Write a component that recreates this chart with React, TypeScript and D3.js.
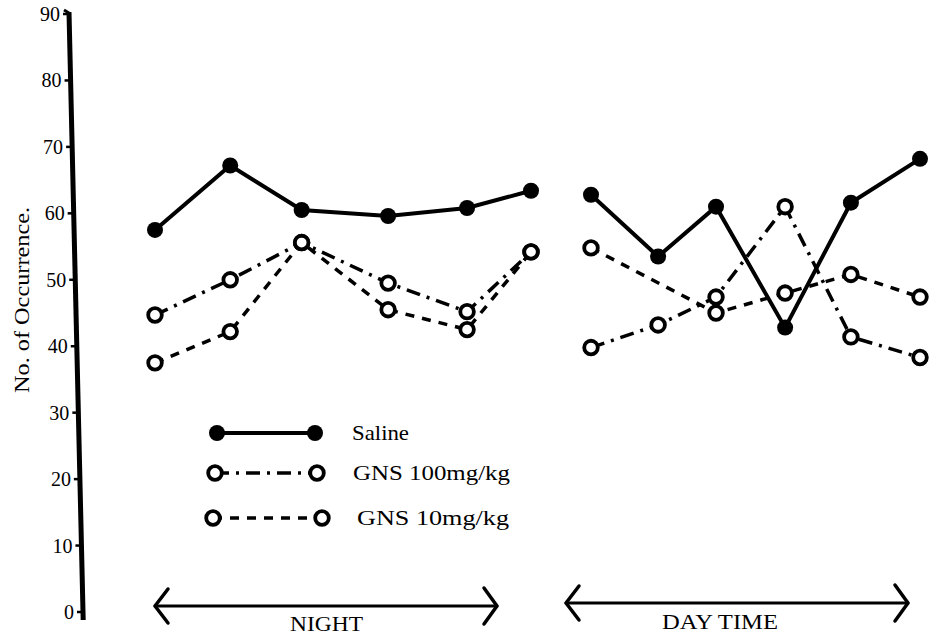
import React from "react";
import * as d3 from "d3";

// ---- data ----
const yTicks = [0, 10, 20, 30, 40, 50, 60, 70, 80, 90];
const nightT = [0, 1, 1.95, 3.1, 4.15, 5];
const dayT = [0, 1.02, 1.9, 2.95, 3.95, 5];
const salineNight = [57.5, 67.2, 60.5, 59.6, 60.8, 63.4];
const gns100Night = [44.7, 50.0, 55.6, 49.5, 45.2, 54.2];
const gns10Night = [37.5, 42.2, 55.6, 45.5, 42.5, 54.2];
const salineDay = [62.8, 53.5, 61.0, 42.8, 61.6, 68.2];
const gns100Day = [39.8, 43.2, 47.4, 61.0, 41.4, 38.3];
const gns10Day: (number | null)[] = [54.8, null, 45.0, 48.0, 50.8, 47.4];
const seriesNames = ["Saline", "GNS 100mg/kg", "GNS 10mg/kg"];
const periodLabels = ["NIGHT", "DAY TIME"];
const yTitle = "No. of Occurrence.";

const FONT = "'Liberation Serif', 'DejaVu Serif', serif";

type Style = { kind: "filled" | "open"; dash: string | null; width: number };
const styles: Style[] = [
  { kind: "filled", dash: null, width: 4 },
  { kind: "open", dash: "14,7,3,7", width: 3.5 },
  { kind: "open", dash: "9,8", width: 3.5 },
];

export default function App() {
  const y = d3.scaleLinear().domain([0, 90]).range([612, 14]);
  const xNight = d3.scaleLinear().domain([0, 5]).range([155, 531]);
  const xDay = d3.scaleLinear().domain([0, 5]).range([591, 920]);
  // slight slant of the hand-drawn axis
  const axisX = d3.scaleLinear().domain([14, 612]).range([69, 83]);

  const panels = [
    { x: xNight, t: nightT, series: [salineNight, gns100Night, gns10Night] },
    { x: xDay, t: dayT, series: [salineDay, gns100Day, gns10Day] },
  ];

  const renderMarker = (cx: number, cy: number, s: Style, key: string) =>
    s.kind === "filled" ? (
      <circle key={key} cx={cx} cy={cy} r={8} fill="#000" />
    ) : (
      <circle key={key} cx={cx} cy={cy} r={6.8} fill="#fff" stroke="#000" strokeWidth={3.8} />
    );

  const legendRows = [
    { y: 433, x1: 217, x2: 315, tx: 352, len: 57 },
    { y: 473, x1: 215, x2: 317, tx: 353, len: 157 },
    { y: 518, x1: 213, x2: 322, tx: 357, len: 152 },
  ];

  const arrows = [
    { x1: 155, x2: 497, y: 606, label: periodLabels[0], lx: 290, ly: 631, len: 73 },
    { x1: 566, x2: 908, y: 603, label: periodLabels[1], lx: 662, ly: 629, len: 116 },
  ];

  const yTop = y(90);
  const yBot = y(0) + 8;

  return (
    <svg
      width={932}
      height={637}
      style={{ position: "absolute", left: 0, top: 0, background: "#fff" }}
      fontFamily={FONT}
    >
      <rect width={932} height={637} fill="#fff" />
      {/* y axis */}
      <line x1={axisX(yTop)} y1={yTop - 2} x2={axisX(yBot)} y2={yBot} stroke="#000" strokeWidth={5} />
      <line x1={axisX(yTop) - 5} y1={yTop - 4} x2={axisX(yTop)} y2={yTop - 1} stroke="#000" strokeWidth={3} />
      {yTicks.map((v) => {
        const yy = y(v);
        const ax = axisX(yy);
        return (
          <g key={v}>
            <line x1={ax - 6} y1={yy} x2={ax} y2={yy} stroke="#000" strokeWidth={2.5} />
            <text x={ax - 9} y={yy} dy="0.35em" textAnchor="end" fontSize={20}>
              {v}
            </text>
          </g>
        );
      })}
      <text
        transform="translate(29,300) rotate(-90)"
        textAnchor="middle"
        fontSize={22}
        textLength={186}
        lengthAdjust="spacingAndGlyphs"
      >
        {yTitle}
      </text>

      {/* series */}
      {panels.map((p, pi) =>
        p.series.map((vals, si) => {
          const s = styles[si];
          const pts = vals
            .map((v, i) => (v == null ? null : ([p.x(p.t[i]), y(v)] as [number, number])))
            .filter((d): d is [number, number] => d !== null);
          const path = d3.line()(pts) || "";
          return (
            <g key={`${pi}-${si}`}>
              <path
                d={path}
                fill="none"
                stroke="#000"
                strokeWidth={s.width}
                strokeDasharray={s.dash || undefined}
              />
              {pts.map((pt, i) => renderMarker(pt[0], pt[1], s, `m${pi}-${si}-${i}`))}
            </g>
          );
        })
      )}

      {/* legend */}
      {legendRows.map((r, i) => {
        const s = styles[i];
        return (
          <g key={i}>
            <line
              x1={r.x1}
              y1={r.y}
              x2={r.x2}
              y2={r.y}
              stroke="#000"
              strokeWidth={s.width}
              strokeDasharray={s.dash || undefined}
            />
            {renderMarker(r.x1, r.y, s, `l${i}a`)}
            {renderMarker(r.x2, r.y, s, `l${i}b`)}
            <text
              x={r.tx}
              y={r.y}
              dy="0.35em"
              fontSize={21}
              textLength={r.len}
              lengthAdjust="spacingAndGlyphs"
            >
              {seriesNames[i]}
            </text>
          </g>
        );
      })}

      {/* period arrows */}
      {arrows.map((a, i) => (
        <g key={i} stroke="#000" fill="none" strokeWidth={3.5} strokeLinecap="round" strokeLinejoin="round">
          <line x1={a.x1} y1={a.y} x2={a.x2} y2={a.y} strokeWidth={3} />
          <path d={`M${a.x1 + 13},${a.y - 17} L${a.x1},${a.y} L${a.x1 + 13},${a.y + 17}`} />
          <path d={`M${a.x2 - 13},${a.y - 18} L${a.x2},${a.y} L${a.x2 - 13},${a.y + 18}`} />
          <text
            x={a.lx}
            y={a.ly}
            fontSize={20}
            textLength={a.len}
            lengthAdjust="spacingAndGlyphs"
            stroke="none"
            fill="#000"
          >
            {a.label}
          </text>
        </g>
      ))}
    </svg>
  );
}
